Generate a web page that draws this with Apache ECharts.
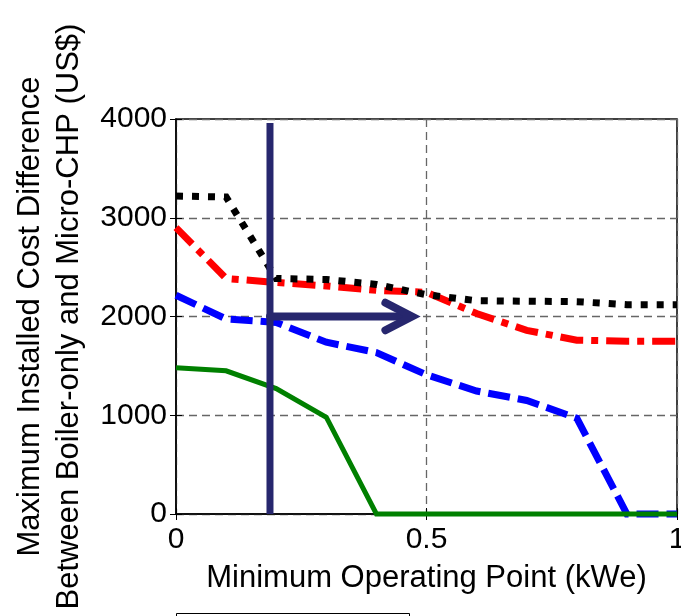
<!DOCTYPE html>
<html><head><meta charset="utf-8">
<script src="https://cdn.jsdelivr.net/npm/echarts@6/dist/echarts.min.js"></script>
<style>html,body{margin:0;padding:0;background:#fff}#c{width:681px;height:616px}</style>
</head><body><div id="c"></div>
<script>
// Data
const xValues = [0, 0.1, 0.2, 0.3, 0.4, 0.5, 0.6, 0.7, 0.8, 0.9, 1.0];
const blackValues = [3220, 3210, 2385, 2375, 2325, 2220, 2160, 2155, 2150, 2120, 2120];
const redValues = [2900, 2385, 2345, 2310, 2265, 2245, 2030, 1860, 1760, 1750, 1750];
const blueValues = [2215, 1975, 1940, 1740, 1635, 1410, 1245, 1150, 970, 0, 0];
const greenValues = [1480, 1450, 1270, 980, 0, 0, 0, 0, 0, 0, 0];

// Annotation: vertical marker and arrow
const markerX = [0.1876, 0.1876];
const markerY = [0, 3960];
const arrowShaftX = [0.1876, 0.466];
const arrowShaftY = [2000, 2000];
const arrowHeadX = [0.418, 0.471, 0.418];
const arrowHeadY = [2139, 2000, 1861];

const xTicks = [0, 0.5, 1];
const yTicks = [0, 1000, 2000, 3000, 4000];

const FONT = '"Liberation Sans", Arial, Helvetica, sans-serif';
const zip = (xs, ys) => xs.map((x, i) => [x, ys[i]]);

const chart = echarts.init(document.getElementById('c'), null, {renderer: 'canvas'});

function lineSeries(name, xs, ys, color, width, type, cap) {
  return {
    name: name,
    type: 'line',
    data: zip(xs, ys),
    symbol: 'none',
    silent: true,
    clip: false,
    animation: false,
    lineStyle: {color: color, width: width, type: type, cap: cap || 'butt', join: 'miter'}
  };
}

chart.setOption({
  animation: false,
  backgroundColor: '#fff',
  grid: {left: 176, right: 4, top: 119, bottom: 102, show: true, borderColor: '#000', borderWidth: 1.5,
    backgroundColor: 'transparent', containLabel: false, outerBoundsMode: 'none'},
  xAxis: [{
    type: 'value', min: 0, max: 1, interval: 0.5,
    name: 'Minimum Operating Point (kWe)', nameLocation: 'middle', nameGap: 49,
    nameTextStyle: {fontSize: 31, color: '#000', fontFamily: FONT},
    axisLine: {show: true, lineStyle: {color: '#000', width: 1.5}},
    axisTick: {show: true, inside: true, length: 6, lineStyle: {color: '#000', width: 1}},
    axisLabel: {fontSize: 30, color: '#000', fontFamily: FONT, margin: 11,
      formatter: v => (xTicks.indexOf(v) >= 0 ? String(v) : '')},
    splitLine: {show: true, lineStyle: {color: '#666', width: 1.3, type: [8, 5]}}
  }, {
    type: 'value', min: 0, max: 1, interval: 0.5, position: 'top',
    axisLine: {show: false}, axisLabel: {show: false}, splitLine: {show: false},
    axisTick: {show: true, inside: true, length: 6, lineStyle: {color: '#000', width: 1}}
  }],
  yAxis: [{
    type: 'value', min: 0, max: 4000, interval: 1000,
    name: 'Maximum Installed Cost Difference\nBetween Boiler-only and Micro-CHP (US$)',
    nameLocation: 'middle', nameRotate: 90, nameGap: 86,
    nameTextStyle: {fontSize: 31, lineHeight: 39, color: '#000', fontFamily: FONT},
    axisLine: {show: true, lineStyle: {color: '#000', width: 1.5}},
    axisTick: {show: true, inside: true, length: 6, lineStyle: {color: '#000', width: 1}},
    axisLabel: {fontSize: 30, color: '#000', fontFamily: FONT, margin: 9,
      formatter: v => (yTicks.indexOf(v) >= 0 ? String(v) : '')},
    splitLine: {show: true, lineStyle: {color: '#666', width: 1.3, type: [8, 5]}}
  }, {
    type: 'value', min: 0, max: 4000, interval: 1000, position: 'right',
    axisLine: {show: false}, axisLabel: {show: false}, splitLine: {show: false},
    axisTick: {show: true, inside: true, length: 6, lineStyle: {color: '#000', width: 1}}
  }],
  graphic: [{
    type: 'rect', left: 176, top: 613, silent: true,
    shape: {width: 233, height: 30},
    style: {fill: '#fff', stroke: '#000', lineWidth: 1}
  }],
  series: [
    lineSeries('Blue', xValues, blueValues, '#0000ff', 7, [22, 8]),
    lineSeries('Red', xValues, redValues, '#ff0000', 7, [23, 8, 7, 8]),
    lineSeries('Black', xValues, blackValues, '#000000', 7, [7, 9]),
    lineSeries('Green', xValues, greenValues, '#008000', 5, 'solid'),
    lineSeries('Marker', markerX, markerY, '#27276e', 7, 'solid'),
    lineSeries('ArrowShaft', arrowShaftX, arrowShaftY, '#27276e', 8, 'solid', 'round'),
    lineSeries('ArrowHead', arrowHeadX, arrowHeadY, '#27276e', 8, 'solid', 'round')
  ]
});
</script>
</body></html>
